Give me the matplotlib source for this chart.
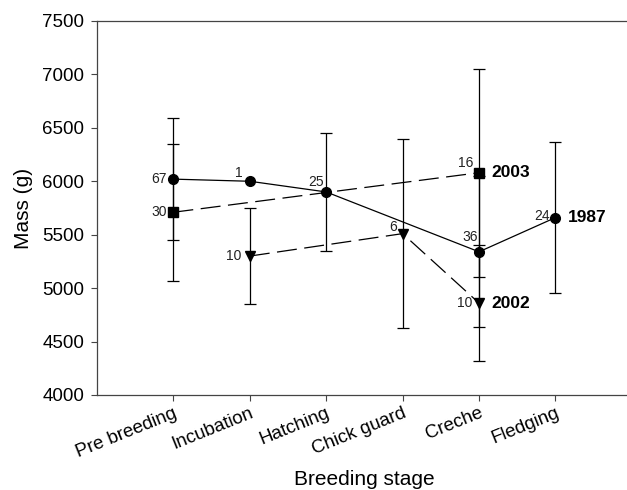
import numpy as np
import matplotlib.pyplot as plt
import matplotlib.transforms as mtransforms

plt.rcParams['font.family'] = ['Liberation Sans', 'DejaVu Sans']

stages = ['Pre breeding', 'Incubation', 'Hatching', 'Chick guard', 'Creche', 'Fledging']

# 1987 (circles, solid line)
x_1987 = [0, 1, 2, 4, 5]
mass_1987 = [6020, 6000, 5900, 5340, 5660]
err_1987 = [570, np.nan, 555, 707, 710]
n_1987 = [67, 1, 25, 36, 24]

# 2003 (squares, dashed)
x_2003 = [0, 4]
mass_2003 = [5710, 6080]
err_2003 = [640, 975]
n_2003 = [30, 16]

# 2002 (down triangles, dashed)
x_2002 = [1, 3, 4]
mass_2002 = [5300, 5510, 4860]
err_2002 = [450, 885, 540]
n_2002 = [10, 6, 10]

# label offsets in points (dx, dy), right-aligned text
off_1987 = [(-5, 0), (-5, 6), (-2, 7), (-1, 11), (-4, 1)]
off_2003 = [(-5, 0), (-4, 7)]
off_2002 = [(-6, 0), (-4, 5), (-5, 0)]

fig = plt.figure(figsize=(6.27, 4.9), dpi=100)
ax = fig.add_axes([0.1547, 0.1939, 0.853, 0.7633])

series = [
    (x_1987, mass_1987, err_1987, n_1987, off_1987, 'o', '-', '1987'),
    (x_2003, mass_2003, err_2003, n_2003, off_2003, 's', (0, (16, 6)), '2003'),
    (x_2002, mass_2002, err_2002, n_2002, off_2002, 'v', (0, (16, 6)), '2002'),
]

for xs, ys, es, ns, offs, mk, ls, name in series:
    xs = np.array(xs) + 1
    ax.errorbar(xs, ys, yerr=es, fmt='none', ecolor='black', elinewidth=0.9,
                capsize=4, capthick=0.9, zorder=2)
    ax.plot(xs, ys, color='black', linestyle=ls, linewidth=0.9,
            marker=mk, markersize=7, markerfacecolor='black',
            markeredgecolor='black', zorder=3)
    for xi, yi, ni, (dx, dy) in zip(xs, ys, ns, offs):
        ax.annotate(str(ni), (xi, yi), xytext=(dx, dy), textcoords='offset points',
                    ha='right', va='center', fontsize=10, color='#222222')
    ax.annotate(name, (xs[-1], ys[-1]), xytext=(9, 0), textcoords='offset points',
                ha='left', va='center', fontsize=12.5, fontweight='bold')

ax.set_xlim(0, 7)
ax.set_ylim(4000, 7500)
ax.set_yticks(np.arange(4000, 7501, 500))
ax.set_xticks(np.arange(1, 7))
ax.set_xticklabels(stages, rotation=22, ha='right')
ax.tick_params(axis='both', direction='out', length=4, width=0.8,
               labelsize=13.5, color='#444444')
ax.tick_params(axis='x', pad=3)
ax.tick_params(axis='y', pad=5)
# shift rotated tick labels slightly right, as in the original
shift = mtransforms.ScaledTranslation(6 / 100, 0, fig.dpi_scale_trans)
for lab in ax.get_xticklabels():
    lab.set_transform(lab.get_transform() + shift)
for sp in ax.spines.values():
    sp.set_linewidth(0.9)
    sp.set_color('#444444')

ax.set_xlabel('Breeding stage', fontsize=15, labelpad=6.5)
ax.set_ylabel('Mass (g)', fontsize=15, labelpad=7)

fig.savefig('out.png', dpi=100)
